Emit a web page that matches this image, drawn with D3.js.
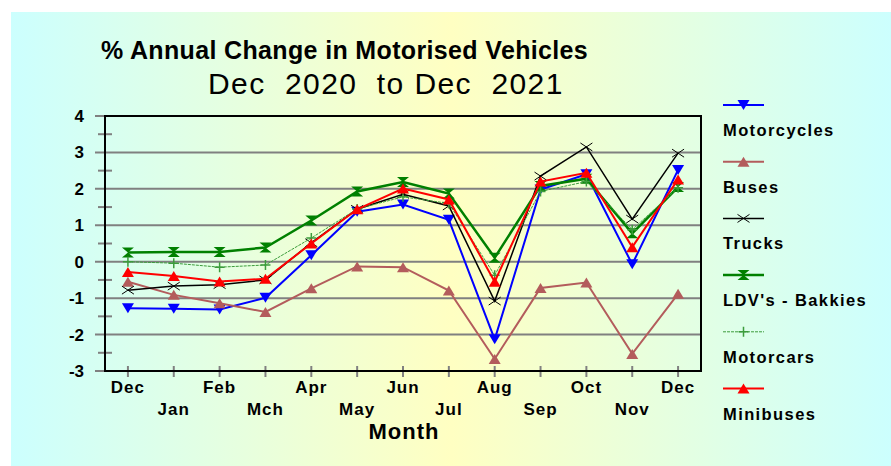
<!DOCTYPE html>
<html>
<head>
<meta charset="utf-8">
<script src="https://cdn.jsdelivr.net/npm/d3@7"></script>
<style>
  body { margin: 0; background: #fff; }
  text { font-family: "Liberation Sans", Arial, sans-serif; fill: #000; }
</style>
</head>
<body>
<script>
// Chart data
const months = ["Dec", "Jan", "Feb", "Mch", "Apr", "May", "Jun", "Jul", "Aug", "Sep", "Oct", "Nov", "Dec "];
const yTicks = [-3, -2, -1, 0, 1, 2, 3, 4];

const motorcycles = [-1.28, -1.29, -1.31, -0.99, 0.18, 1.37, 1.57, 1.15, -2.13, 1.98, 2.4, -0.07, 2.52];
const buses = [-0.55, -0.91, -1.14, -1.38, -0.73, -0.13, -0.15, -0.79, -2.67, -0.72, -0.57, -2.53, -0.88];
const trucks = [-0.78, -0.67, -0.63, -0.5, 0.52, 1.44, 1.85, 1.53, -1.08, 2.35, 3.15, 1.17, 2.98];
const ldvBakkies = [0.25, 0.27, 0.27, 0.39, 1.13, 1.93, 2.19, 1.87, 0.11, 2.08, 2.28, 0.78, 2.05];
const motorcars = [0.0, -0.04, -0.15, -0.09, 0.65, 1.45, 1.78, 1.6, -0.37, 1.93, 2.2, 0.88, 2.03];
const minibuses = [-0.28, -0.39, -0.54, -0.47, 0.5, 1.44, 2.01, 1.71, -0.55, 2.2, 2.44, 0.4, 2.26];

const series = [
  { name: "Motorcycles", values: motorcycles, color: "#0000ff", width: 2, marker: "down" },
  { name: "Buses", values: buses, color: "#b35c5c", width: 2, marker: "up" },
  { name: "Trucks", values: trucks, color: "#000000", width: 1.5, marker: "x" },
  { name: "LDV's - Bakkies", values: ldvBakkies, color: "#008000", width: 2.5, marker: "hourglass" },
  { name: "Motorcars", values: motorcars, color: "#3c9c3c", width: 1, marker: "plus", dash: "3,1" },
  { name: "Minibuses", values: minibuses, color: "#ff0000", width: 2, marker: "up" },
];

const width = 891;
const height = 466;

const svg = d3.select("body").append("svg")
  .attr("width", width)
  .attr("height", height);

// Background gradient (cyan -> yellow -> cyan)
const grad = svg.append("defs").append("linearGradient")
  .attr("id", "bg")
  .attr("x1", "0%").attr("x2", "100%")
  .attr("y1", "0%").attr("y2", "0%");
grad.append("stop").attr("offset", "0%").attr("stop-color", "#ccfffe");
grad.append("stop").attr("offset", "50%").attr("stop-color", "#ffffc2");
grad.append("stop").attr("offset", "100%").attr("stop-color", "#ccfffe");

svg.append("rect")
  .attr("x", 11).attr("y", 12)
  .attr("width", width - 11).attr("height", height - 12)
  .attr("fill", "url(#bg)");

// Plot area
const plot = { left: 105, right: 701, top: 116, bottom: 371 };

const x = d3.scalePoint()
  .domain(months)
  .range([plot.left, plot.right])
  .padding(0.5);

const y = d3.scaleLinear()
  .domain([-3, 4])
  .range([plot.bottom, plot.top]);

// Titles
svg.append("text")
  .attr("x", 101).attr("y", 59)
  .style("font-size", "25px").style("font-weight", "bold")
  .style("letter-spacing", "0.35px")
  .text("% Annual Change in Motorised Vehicles");

svg.append("text")
  .attr("x", 208).attr("y", 94)
  .style("font-size", "30px").style("letter-spacing", "1.4px")
  .style("white-space", "pre")
  .attr("xml:space", "preserve")
  .text("Dec  2020  to Dec  2021");

// Gridlines and y ticks
const grid = svg.append("g");
grid.selectAll("line.major")
  .data(yTicks)
  .enter().append("line")
  .attr("class", "major")
  .attr("x1", 95)
  .attr("x2", (d) => (d === 4 || d === -3 ? plot.left : plot.right))
  .attr("y1", (d) => y(d)).attr("y2", (d) => y(d))
  .attr("stroke", "#808080").attr("stroke-width", 2);

const minorTicks = d3.range(-2.5, 4, 1);
grid.selectAll("line.minor")
  .data(minorTicks)
  .enter().append("line")
  .attr("class", "minor")
  .attr("x1", 98).attr("x2", 112)
  .attr("y1", (d) => y(d)).attr("y2", (d) => y(d))
  .attr("stroke", "#808080").attr("stroke-width", 2);

// x ticks
grid.selectAll("line.xtick")
  .data(months)
  .enter().append("line")
  .attr("class", "xtick")
  .attr("x1", (d) => x(d)).attr("x2", (d) => x(d))
  .attr("y1", plot.bottom - 5).attr("y2", plot.bottom + 6)
  .attr("stroke", "#808080").attr("stroke-width", 2);

// Frame
svg.append("rect")
  .attr("x", plot.left).attr("y", plot.top)
  .attr("width", plot.right - plot.left)
  .attr("height", plot.bottom - plot.top)
  .attr("fill", "none")
  .attr("stroke", "#000").attr("stroke-width", 2);

// y labels
svg.append("g").selectAll("text")
  .data(yTicks)
  .enter().append("text")
  .attr("x", 84)
  .attr("y", (d) => y(d) + 6)
  .attr("text-anchor", "end")
  .style("font-size", "17px").style("font-weight", "bold")
  .text((d) => d);

// x labels, staggered in two rows
svg.append("g").selectAll("text")
  .data(months)
  .enter().append("text")
  .attr("x", (d) => x(d))
  .attr("y", (d, i) => (i % 2 === 0 ? 393 : 415))
  .attr("text-anchor", "middle")
  .style("font-size", "17px").style("font-weight", "bold")
  .style("letter-spacing", "1px")
  .text((d) => d.trim());

svg.append("text")
  .attr("x", 404).attr("y", 439)
  .attr("text-anchor", "middle")
  .style("font-size", "22px").style("font-weight", "bold")
  .style("letter-spacing", "1px")
  .text("Month");

// Marker drawing
function drawMarker(g, type, color) {
  if (type === "down") {
    g.append("path").attr("d", "M-6,-5L6,-5L0,5Z").attr("fill", color);
  } else if (type === "up") {
    g.append("path").attr("d", "M-6,5L6,5L0,-5Z").attr("fill", color);
  } else if (type === "x") {
    g.append("path").attr("d", "M-6,-4L6,4M-6,4L6,-4")
      .attr("stroke", color).attr("stroke-width", 1).attr("fill", "none");
  } else if (type === "hourglass") {
    g.append("path").attr("d", "M-6,-5L6,-5L0,0L6,5L-6,5L0,0Z").attr("fill", color);
  } else if (type === "plus") {
    g.append("path").attr("d", "M-5,0L5,0M0,-5L0,5")
      .attr("stroke", color).attr("stroke-width", 1.5).attr("fill", "none");
  }
}

// Lines and markers
const line = d3.line()
  .x((d, i) => x(months[i]))
  .y((d) => y(d));

series.forEach((s) => {
  const g = svg.append("g");
  g.append("path")
    .datum(s.values)
    .attr("d", line)
    .attr("fill", "none")
    .attr("stroke", s.color)
    .attr("stroke-width", s.width)
    .attr("stroke-dasharray", s.dash || null);

  s.values.forEach((v, i) => {
    const m = g.append("g").attr("transform", `translate(${x(months[i])},${y(v)})`);
    drawMarker(m, s.marker, s.color);
  });
});

// Legend
const legend = svg.append("g");
series.forEach((s, i) => {
  const ly = 105 + i * 56.7;
  legend.append("line")
    .attr("x1", 723).attr("x2", 764)
    .attr("y1", ly).attr("y2", ly)
    .attr("stroke", s.color)
    .attr("stroke-width", s.width)
    .attr("stroke-dasharray", s.dash || null);
  const m = legend.append("g").attr("transform", `translate(743.5,${ly})`);
  drawMarker(m, s.marker, s.color);
  legend.append("text")
    .attr("x", 723).attr("y", ly + 31)
    .style("font-size", "16.5px").style("font-weight", "bold")
    .style("letter-spacing", "1.4px")
    .text(s.name);
});
</script>
</body>
</html>
